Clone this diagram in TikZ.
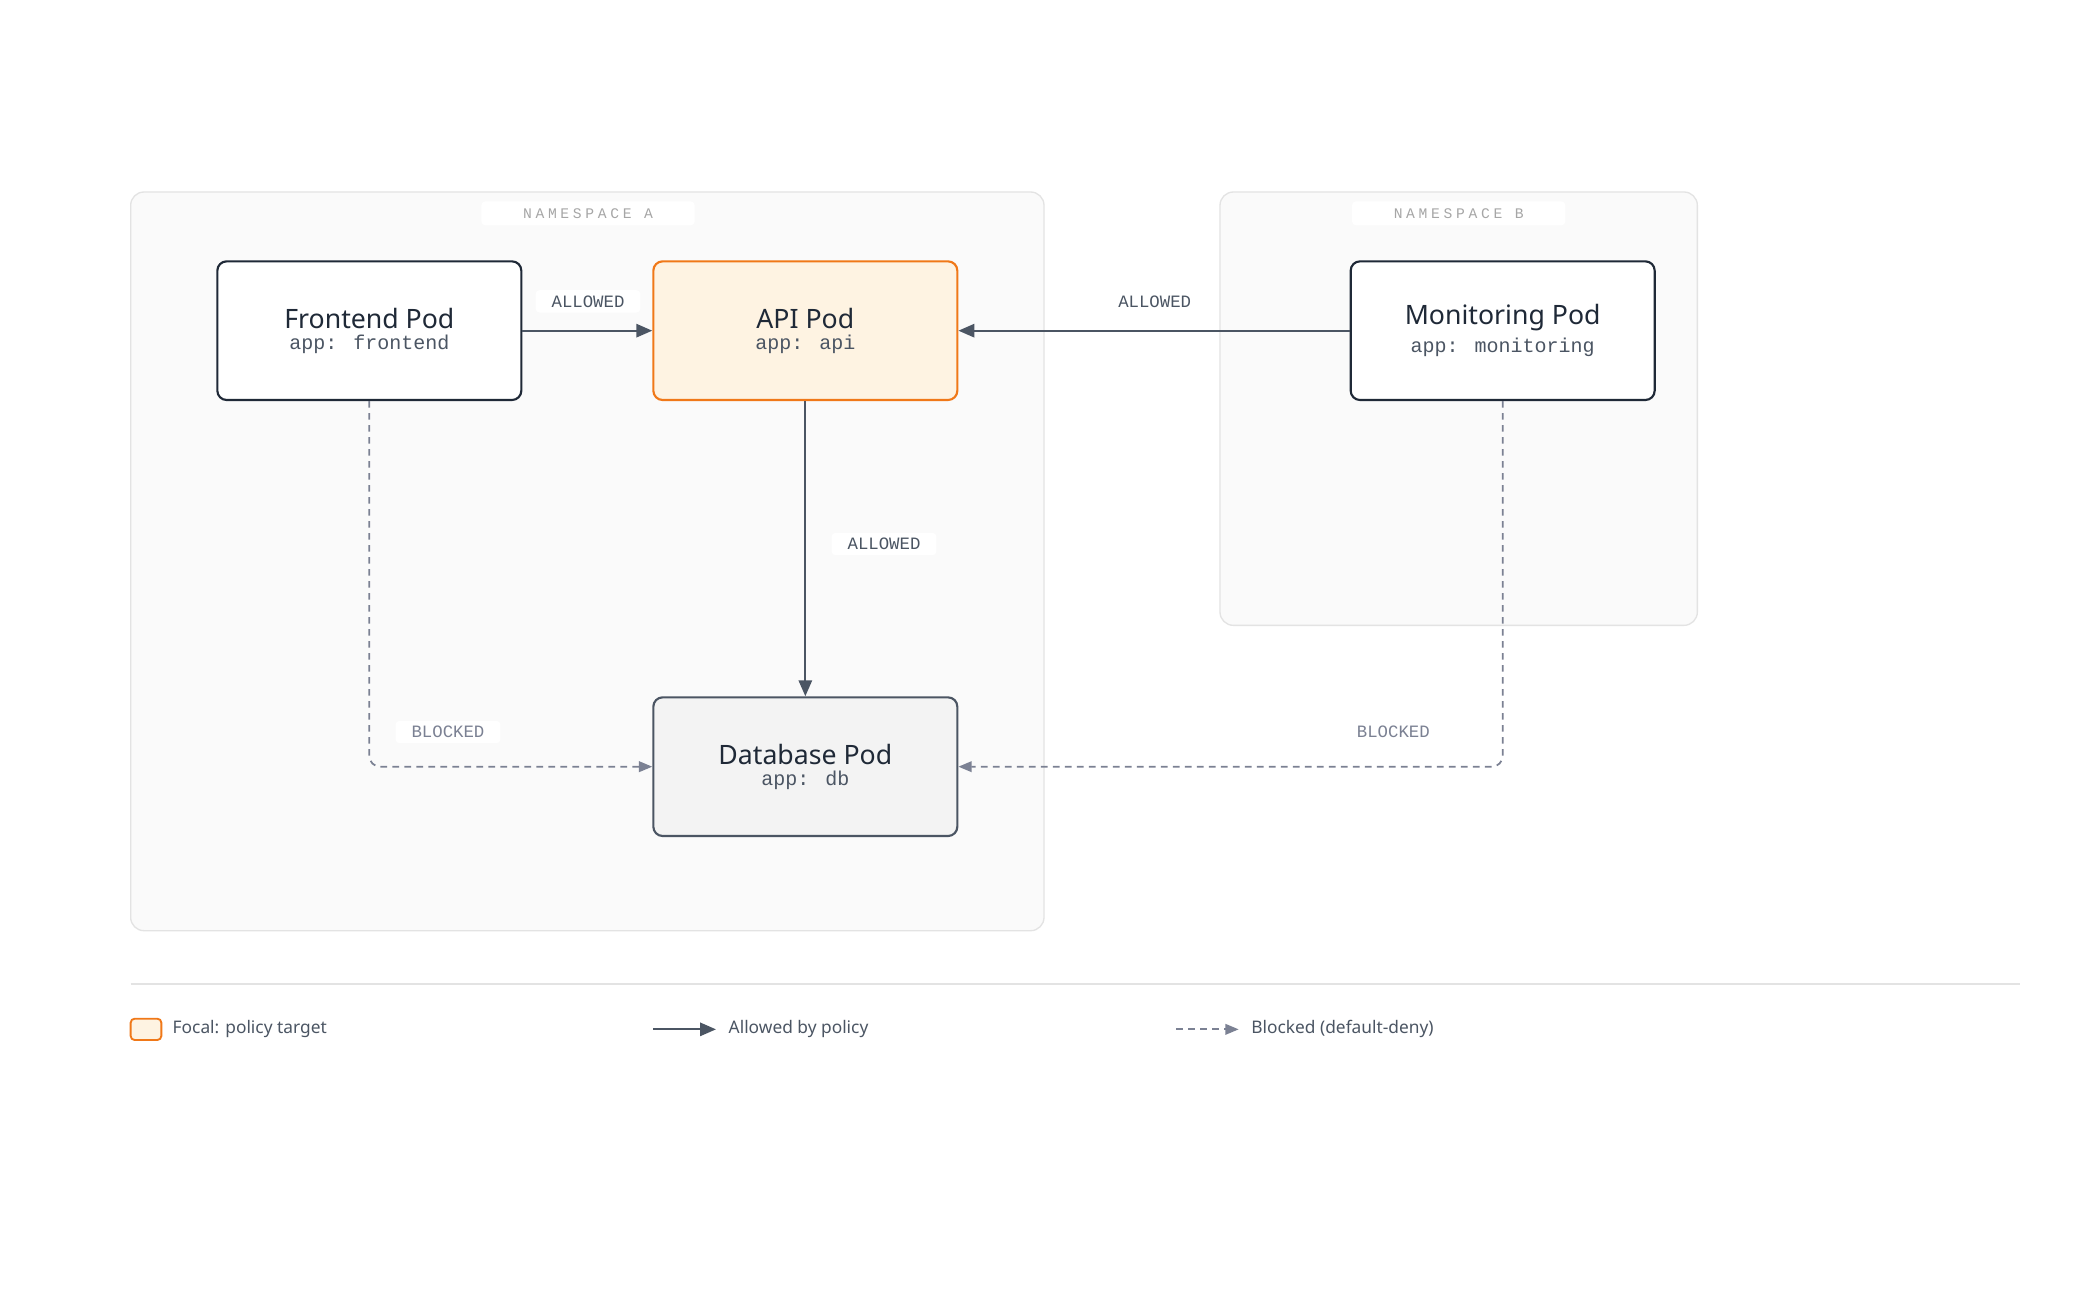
\documentclass[tikz,border=0pt]{standalone}
\usepackage{fontspec}
\setmainfont{Noto Sans}
\newfontfamily\monofont{Liberation Mono}
\newfontfamily\spacedmono{Liberation Mono}[LetterSpace=25]
\usetikzlibrary{arrows.meta}
\definecolor{inkdark}{HTML}{1F2937}
\definecolor{edgegray}{HTML}{4B5563}
\definecolor{dashgray}{HTML}{7B8193}
\definecolor{nsfill}{HTML}{FAFAFA}
\definecolor{nsline}{HTML}{E3E3E3}
\definecolor{focal}{HTML}{F07818}
\definecolor{focalfill}{HTML}{FEF3E2}
\definecolor{dbfill}{HTML}{F3F3F3}
\tikzset{
  x=1pt, y=-1pt,
  pod/.style={draw=inkdark, line width=1.6pt, rounded corners=7pt, fill=white,
    minimum width=228pt, minimum height=104pt, align=center, inner sep=0pt},
  ns/.style={draw=nsline, line width=1pt, fill=nsfill, rounded corners=10pt},
  nslabel/.style={fill=white, rounded corners=3pt, text=gray!70, font=\spacedmono\fontsize{11}{13}\selectfont,
    minimum width=160pt, minimum height=18pt},
  tag/.style={fill=white, rounded corners=3pt, text=edgegray, font=\monofont\fontsize{13}{15}\selectfont,
    inner xsep=12pt, inner ysep=4pt},
  allowed/.style={draw=edgegray, line width=1.6pt, -{Triangle[length=12pt,width=10pt]}},
  blocked/.style={draw=dashgray, line width=1.3pt, dash pattern=on 5pt off 4pt,
    rounded corners=8pt, -{Triangle[length=10pt,width=8pt]}}
}
\newcommand{\podtext}[2]{{\fontsize{20}{24}\selectfont\bfseries\color{inkdark}#1}\\[4pt]{\monofont\fontsize{15}{18}\selectfont\color{edgegray}#2}}
\begin{document}
\begin{tikzpicture}
\useasboundingbox (0,0) rectangle (1560,975);
\fill[white] (0,0) rectangle (1560,975);
% namespaces
\draw[ns] (98,144) rectangle (783,698);
\draw[ns] (915,144) rectangle (1273,469);
\node[nslabel] (nsa) at (441,160) {NAMESPACE A};
\node[nslabel] (nsb) at (1094,160) {NAMESPACE B};
% pods
\node[pod] (frontend) at (277,248) {\podtext{Frontend Pod}{app: frontend}};
\node[pod, draw=focal, fill=focalfill] (api) at (604,248) {\podtext{API Pod}{app: api}};
\node[pod] (monitoring) at (1127,248) {\podtext{Monitoring Pod}{app: monitoring}};
\node[pod, draw=edgegray, fill=dbfill] (db) at (604,575) {\podtext{Database Pod}{app: db}};
% allowed
\draw[allowed] (frontend) -- (api);
\draw[allowed] (monitoring) -- (api);
\draw[allowed] (api) -- (db);
\node[tag] (t1) at (441,226) {ALLOWED};
\node[tag] (t2) at (866,226) {ALLOWED};
\node[tag] (t3) at (663,408) {ALLOWED};
% blocked
\draw[blocked] (frontend.south) |- (db.west);
\draw[blocked] (monitoring.south) |- (db.east);
\node[tag, text=dashgray] (t4) at (336,549) {BLOCKED};
\node[tag, text=dashgray] (t5) at (1045,549) {BLOCKED};
% legend
\draw[nsline, line width=1pt] (98,738) -- (1515,738);
\draw[focal, fill=focalfill, line width=1.4pt, rounded corners=3pt] (98,764) rectangle (121,780);
\node[anchor=west, text=edgegray, font=\fontsize{13}{15}\selectfont] (l1) at (126,772) {Focal: policy target};
\coordinate (a1) at (490,772);
\coordinate (a2) at (537,772);
\draw[allowed] (a1) -- (a2);
\node[anchor=west, text=edgegray, font=\fontsize{13}{15}\selectfont] (l2) at (543,772) {Allowed by policy};
\coordinate (b1) at (882,772);
\coordinate (b2) at (929,772);
\draw[blocked] (b1) -- (b2);
\node[anchor=west, text=edgegray, font=\fontsize{13}{15}\selectfont] (l3) at (935,772) {Blocked (default-deny)};
\end{tikzpicture}
\end{document}
